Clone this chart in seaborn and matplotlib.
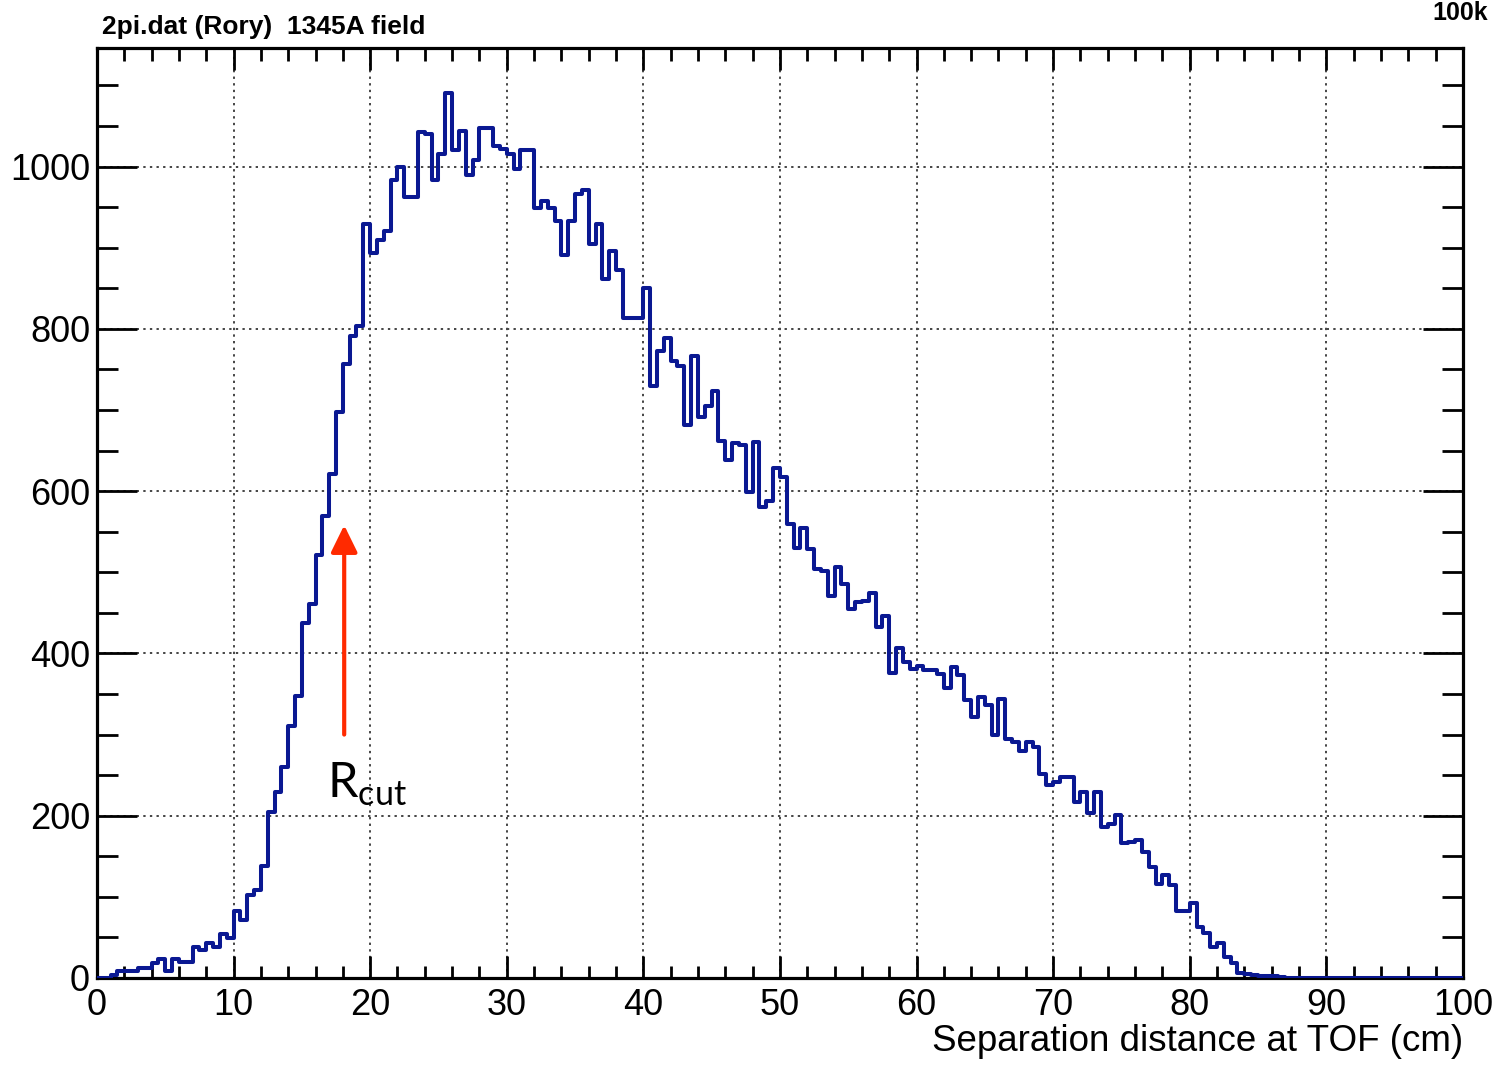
import numpy as np
import pandas as pd
import seaborn as sns
import matplotlib.pyplot as plt
from matplotlib.ticker import MultipleLocator

# histogram of separation distance, 0.5 cm bins from 0 to 100
bin_width = 0.5
counts = [
    0, 0, 4, 9, 9, 9, 12, 12, 19, 23,            # 0 - 4.5
    8, 23, 20, 20, 38, 35, 43, 38, 54, 49,       # 5 - 9.5
    82, 71, 102, 108, 138, 205, 229, 260, 311, 348,   # 10 - 14.5
    437, 461, 521, 569, 621, 697, 757, 791, 804, 929,  # 15 - 19.5
    893, 909, 921, 983, 1000, 962, 962, 1043, 1040, 984,   # 20 - 24.5
    1015, 1091, 1021, 1044, 990, 1008, 1048, 1048, 1026, 1022,  # 25 - 29.5
    1016, 997, 1020, 1021, 949, 958, 949, 933, 891, 933,   # 30 - 34.5
    966, 971, 905, 929, 861, 896, 873, 814, 814, 814,     # 35 - 39.5
    851, 729, 773, 789, 761, 754, 682, 766, 691, 705,     # 40 - 44.5
    723, 662, 638, 659, 657, 599, 660, 580, 588, 629,     # 45 - 49.5
    618, 560, 530, 555, 529, 504, 502, 471, 506, 486,     # 50 - 54.5
    455, 463, 465, 475, 432, 446, 376, 407, 389, 381,     # 55 - 59.5
    385, 380, 380, 375, 357, 383, 374, 342, 322, 346,     # 60 - 64.5
    336, 299, 344, 295, 291, 280, 291, 285, 252, 238,     # 65 - 69.5
    242, 248, 248, 217, 229, 203, 229, 186, 190, 201,     # 70 - 74.5
    166, 168, 170, 155, 137, 116, 127, 114, 82, 83,       # 75 - 79.5
    92, 63, 55, 38, 43, 26, 18, 6, 5, 4,                  # 80 - 84.5
    3, 3, 2, 1, 0, 0, 0, 0, 0, 0,                         # 85 - 89.5
    0, 0, 0, 0, 0, 0, 0, 0, 0, 0,                         # 90 - 94.5
    0, 0, 0, 0, 0, 0, 0, 0, 0, 0,                         # 95 - 99.5
]
bin_lo = np.arange(len(counts)) * bin_width
df = pd.DataFrame({'dist': bin_lo + bin_width / 2, 'n': counts})

xticks = [0, 10, 20, 30, 40, 50, 60, 70, 80, 90, 100]
yticks = [0, 200, 400, 600, 800, 1000]

plt.rcParams['font.family'] = ['Liberation Sans', 'DejaVu Sans']

fig = plt.figure(figsize=(15.01, 10.70), dpi=100)
ax = fig.add_axes([0.0646, 0.086, 0.910, 0.869])

sns.histplot(data=df, x='dist', weights='n', binwidth=bin_width, binrange=(0, 100),
             element='step', fill=False, color='#0a1892', linewidth=2.9, ax=ax, zorder=3)

ax.set_xlim(0, 100)
ax.set_ylim(0, 1146)
ax.set_xticks(xticks)
ax.set_yticks(yticks)
ax.xaxis.set_minor_locator(MultipleLocator(2))
ax.yaxis.set_minor_locator(MultipleLocator(50))
ax.tick_params(axis='both', which='both', direction='in', top=True, right=True,
               width=2, colors='black', labelsize=26)
ax.tick_params(axis='x', which='major', length=16, pad=7)
ax.tick_params(axis='x', which='minor', length=9)
ax.tick_params(axis='y', which='major', length=29, pad=5)
ax.tick_params(axis='y', which='minor', length=15)
ax.grid(True, which='major', linestyle=(0, (1.2, 2.2)), color='#444444', linewidth=1.4)
for s in ax.spines.values():
    s.set_linewidth(2.3)
ax.set_ylabel('')
ax.set_xlabel('Separation distance at TOF (cm)', fontsize=26.5, loc='right', labelpad=1)

# R_cut marker
ax.annotate('', xy=(18.1, 558), xytext=(18.1, 300),
            arrowprops=dict(arrowstyle='-|>,head_length=0.55,head_width=0.27', color='#ff2a00',
                            lw=3, mutation_scale=30, shrinkA=0, shrinkB=0))
ax.text(16.85, 222, r'R$_\mathregular{cut}$', family='Lato', fontsize=35, ha='left', va='baseline')

fig.text(102 / 1501, 1 - 27 / 1070, '2pi.dat (Rory)  1345A field', fontsize=19,
         fontweight='bold', ha='left', va='center')
fig.text(1432 / 1501, 1 - 1 / 1070, '100k', fontsize=18, fontweight='bold', ha='left', va='top')

fig.savefig('out.png', dpi=100)
